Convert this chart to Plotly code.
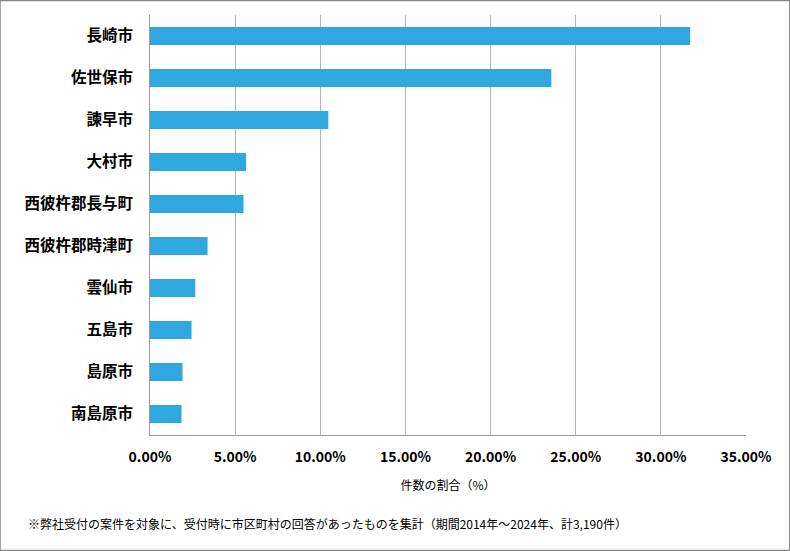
import plotly.graph_objects as go

categories = ["長崎市", "佐世保市", "諫早市", "大村市", "西彼杵郡長与町",
              "西彼杵郡時津町", "雲仙市", "五島市", "島原市", "南島原市"]
shares = [0.3172, 0.2357, 0.1047, 0.0564, 0.0549, 0.0338, 0.0266, 0.0244, 0.0191, 0.0185]
x_ticks = [0, 0.05, 0.10, 0.15, 0.20, 0.25, 0.30, 0.35]
x_tick_labels = ["0.00%", "5.00%", "10.00%", "15.00%", "20.00%", "25.00%", "30.00%", "35.00%"]
x_title = "件数の割合（%）"
footnote = "※弊社受付の案件を対象に、受付時に市区町村の回答があったものを集計（期間2014年～2024年、計3,190件）"

FONT = "Noto Sans CJK JP"

fig = go.Figure(go.Bar(
    x=shares, y=categories, orientation="h",
    marker=dict(color="#2FA8DF", line=dict(width=0)),
    width=0.43,
))

fig.update_layout(
    width=790, height=551,
    margin=dict(l=150, r=44, t=15, b=116),
    paper_bgcolor="white", plot_bgcolor="white",
    font=dict(family=FONT, color="#000000"),
    showlegend=False,
    bargap=0.57,
    xaxis=dict(
        range=[0, 0.35], tickvals=x_ticks, ticktext=x_tick_labels,
        tickfont=dict(size=14, family=FONT, weight="bold"),
        showgrid=True, gridcolor="#B3B3B3", gridwidth=1,
        showline=True, linecolor="#999999", linewidth=1,
        zeroline=False, ticks="", ticklen=0,
        ticklabelstandoff=9,
        title=dict(text=x_title, font=dict(size=12, family=FONT), standoff=16),
    ),
    yaxis=dict(
        autorange="reversed",
        tickfont=dict(size=15.5, family=FONT, weight="bold"),
        showline=True, linecolor="#999999", linewidth=1,
        showgrid=False, zeroline=False, ticks="", ticklen=0,
        ticklabelstandoff=13,
    ),
    shapes=[dict(type="rect", xref="paper", yref="paper",
                 x0=-150/596, x1=(790-150)/596 - 0.0005,
                 y0=-116/420 + 0.001, y1=(551-116)/420 - 0.001,
                 line=dict(color="#888888", width=1.5), fillcolor="rgba(0,0,0,0)", layer="below")],
    annotations=[dict(text=footnote, xref="paper", yref="paper",
                      x=-124/596, y=-88/420, xanchor="left", yanchor="middle",
                      showarrow=False, font=dict(size=12, family=FONT))],
)

fig.write_html("out.html")
